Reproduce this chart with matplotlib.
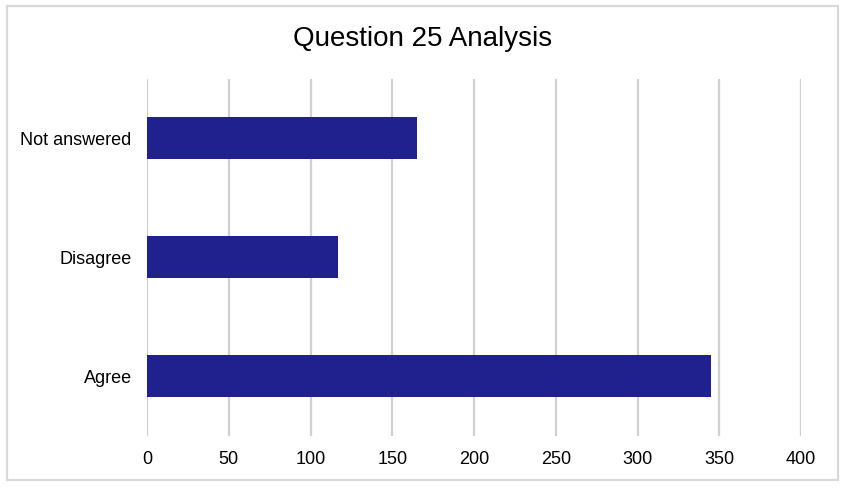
import matplotlib
matplotlib.use("Agg")
import matplotlib.pyplot as plt
from matplotlib.patches import Rectangle

categories = ["Agree", "Disagree", "Not answered"]
values = [345, 117, 165]
xticks = [0, 50, 100, 150, 200, 250, 300, 350, 400]

plt.rcParams['font.family'] = ['Liberation Sans', 'DejaVu Sans']

W, H = 846, 489
fig = plt.figure(figsize=(W / 100, H / 100), dpi=100)
left, right, top, bottom = 147, 801, 79.5, 436.5
ax = fig.add_axes([left / W, 1 - bottom / H, (right - left) / W, (bottom - top) / H])

ax.barh(range(len(categories)), values, height=0.35, color="#20208f", zorder=3)
ax.set_xlim(0, 400)
ax.set_ylim(-0.5, len(categories) - 0.5)
ax.set_xticks(xticks)
ax.set_xticklabels([str(t) for t in xticks])
ax.set_yticks(range(len(categories)))
ax.set_yticklabels(categories)
ax.tick_params(axis="both", length=0, labelsize=13, colors="#000000")
ax.tick_params(axis="y", pad=11)
ax.tick_params(axis="x", pad=10.5)
ax.grid(axis="x", color="#d0d0d0", linewidth=1.6, zorder=0)
for s in ax.spines.values():
    s.set_visible(False)

fig.text(0.5, 1 - 39 / H, "Question 25 Analysis", ha="center", va="center", fontsize=20)
fig.patches.append(Rectangle((7 / W, 1 - 481 / H), (838 - 7) / W, (481 - 7) / H,
                             transform=fig.transFigure, fill=False,
                             edgecolor="#d9d9d9", linewidth=1.6))

fig.savefig("out.png", dpi=100)
